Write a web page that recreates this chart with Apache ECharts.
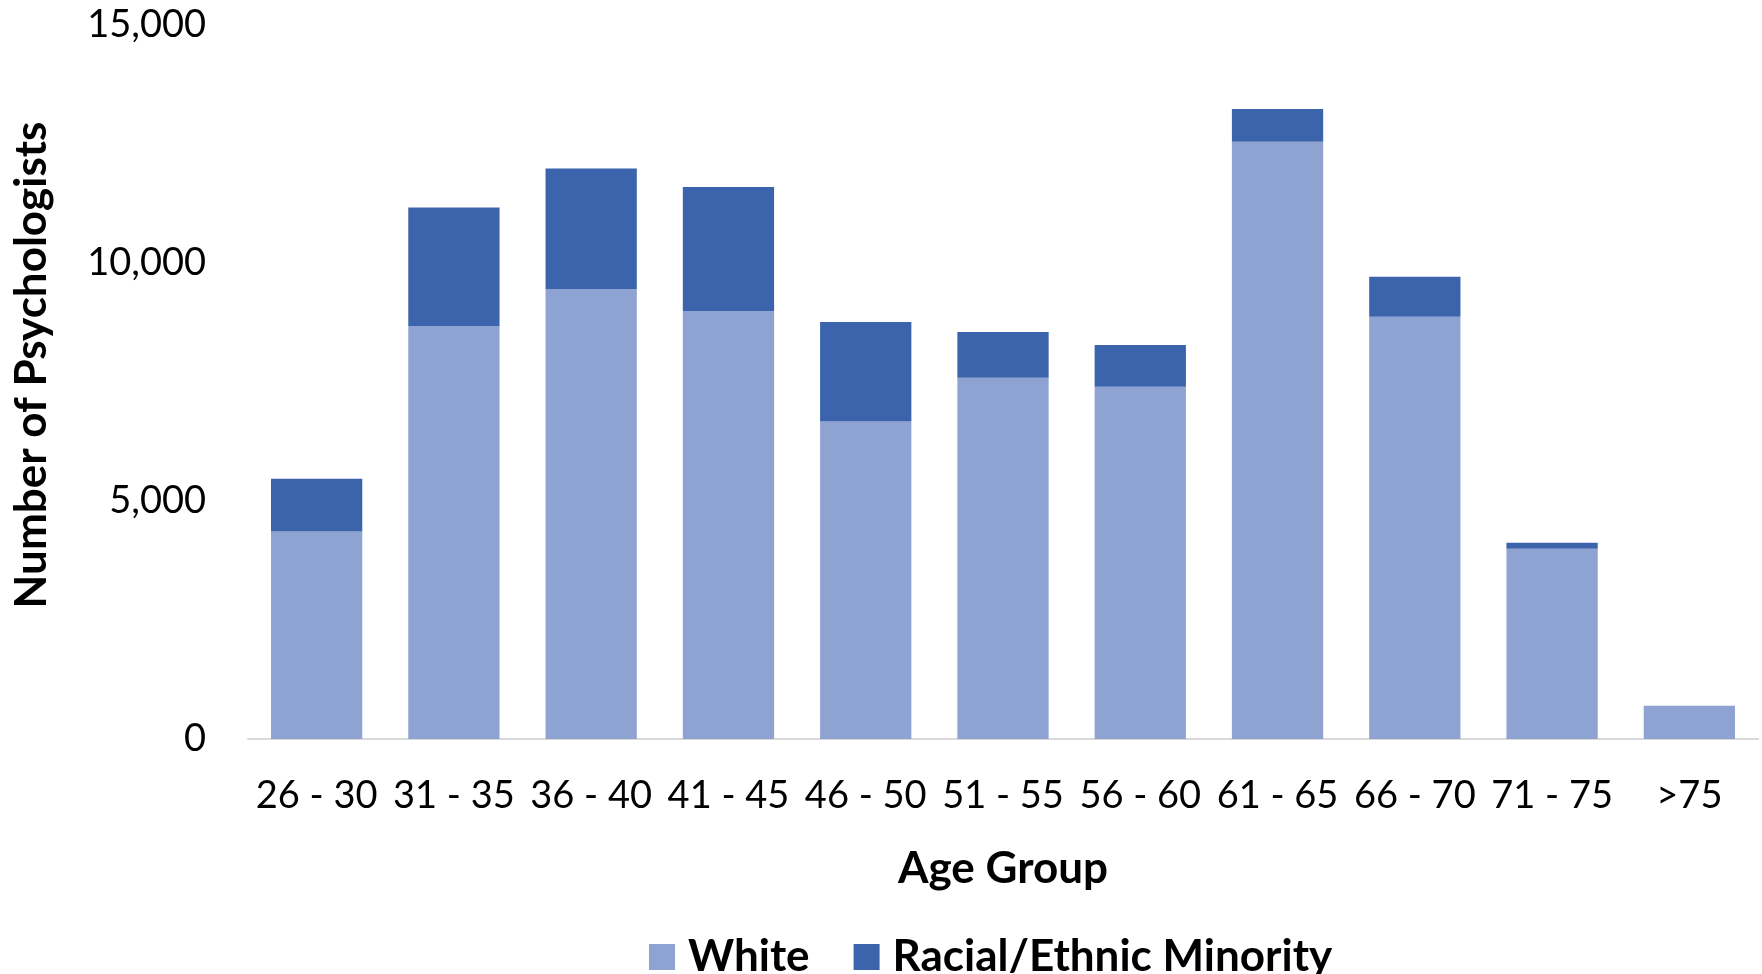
<!DOCTYPE html>
<html>
<head>
<meta charset="utf-8">
<script src="https://cdn.jsdelivr.net/npm/echarts@6/dist/echarts.min.js"></script>
<style>
html,body{margin:0;padding:0;background:#fff;}
#chart{width:1762px;height:974px;}
</style>
</head>
<body>
<div id="chart"></div>
<script>
var categories = ['26 - 30','31 - 35','36 - 40','41 - 45','46 - 50','51 - 55','56 - 60','61 - 65','66 - 70','71 - 75','>75'];
var whiteValues = [4361, 8676, 9454, 8992, 6672, 7590, 7401, 12548, 8872, 3998, 700];
var minorityValues = [1107, 2492, 2533, 2605, 2089, 960, 876, 687, 840, 126, 0];
var yTicks = [0, 5000, 10000, 15000];
var seriesNames = ['White', 'Racial/Ethnic Minority'];

var FONT = 'Lato, "Open Sans", sans-serif';
var chart = echarts.init(document.getElementById('chart'), null, {renderer:'canvas'});
chart.setOption({
  animation: false,
  backgroundColor: '#ffffff',
  grid: {left: 248, right: 4, top: 25, bottom: 235, containLabel: false},
  legend: {
    data: seriesNames,
    top: 930,
    left: 644,
    itemWidth: 26,
    itemHeight: 26,
    itemGap: 44,
    icon: 'rect',
    textStyle: {fontFamily: FONT, fontWeight: 'bold', fontSize: 44, color: '#000', padding: [0,0,0,8]}
  },
  xAxis: {
    type: 'category',
    data: categories,
    name: 'Age Group',
    nameLocation: 'middle',
    nameGap: 108,
    nameTextStyle: {fontFamily: FONT, fontWeight: 'bold', fontSize: 44, color: '#000'},
    axisTick: {show: false},
    axisLine: {lineStyle: {color: '#d9d9d9', width: 2}},
    axisLabel: {fontFamily: FONT, fontSize: 38, color: '#000', margin: 38, interval: 0}
  },
  yAxis: {
    type: 'value',
    min: yTicks[0],
    max: yTicks[yTicks.length - 1],
    interval: yTicks[1] - yTicks[0],
    splitLine: {show: false},
    axisLine: {show: false},
    axisTick: {show: false},
    axisLabel: {
      fontFamily: FONT, fontSize: 38, color: '#000', margin: 42,
      formatter: function (v) { return v.toLocaleString('en-US'); }
    }
  },
  graphic: [{
    type: 'text',
    x: 32,
    y: 365,
    rotation: Math.PI / 2,
    style: {
      text: 'Number of Psychologists',
      font: 'bold 44px ' + FONT,
      fill: '#000',
      textAlign: 'center',
      textVerticalAlign: 'middle'
    }
  }],
  series: [
    {
      name: seriesNames[0], type: 'bar', stack: 'total', data: whiteValues,
      barWidth: '66.5%',
      itemStyle: {color: '#8fa3d3'}
    },
    {
      name: seriesNames[1], type: 'bar', stack: 'total', data: minorityValues,
      barWidth: '66.5%',
      itemStyle: {color: '#3c64ac'}
    }
  ]
});
</script>
</body>
</html>
